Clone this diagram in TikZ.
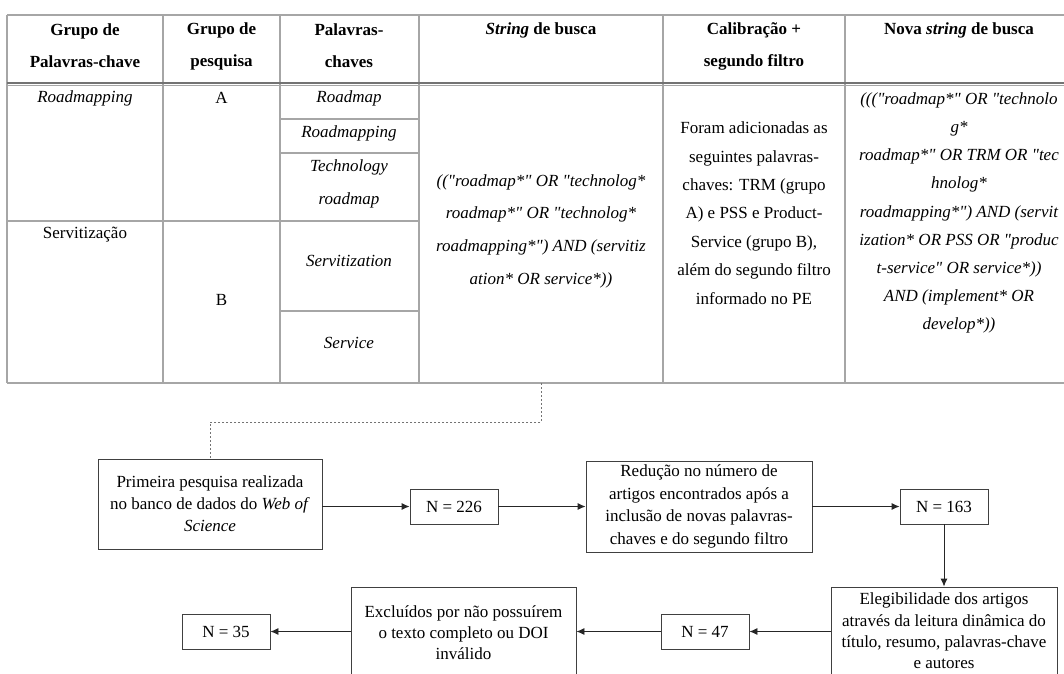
\documentclass[tikz,border=0pt]{standalone}
\usepackage{fontspec}
\setmainfont{Liberation Serif}[Ligatures=TeXOff]
\usetikzlibrary{arrows.meta}

\begin{document}
\begin{tikzpicture}[x=1pt,y=-1pt,
  grid/.style={draw=black!35, line width=1.1pt},
  cell/.style={inner sep=0pt, align=center, font=\fontsize{17}{32}\selectfont},
  hd/.style={inner sep=0pt, align=center, font=\fontsize{17}{32}\selectfont\bfseries},
  box/.style={draw=black!75, line width=0.9pt, inner sep=0pt, align=center},
  nbox/.style={box, minimum width=88pt, minimum height=35pt, font=\fontsize{17}{22}\selectfont},
  flow/.style={draw=black!85, line width=0.9pt, -{Latex[length=8pt,width=7pt]}},
  link/.style={draw=black!55, line width=0.9pt, dash pattern=on 2pt off 2pt},
]
\useasboundingbox (0,0) rectangle (1064,673);
\clip (0,0) rectangle (1064,673);
\fill[white] (0,0) rectangle (1064,673);

% ---- table rules ----
\draw[grid] (7,15) -- (1064,15);
\draw[grid] (7,383) -- (1064,383);
\foreach \x in {7,163,280,419,663,845}
  \draw[grid] (\x,15) -- (\x,383);
\draw[draw=black!55, line width=2pt] (7,83) -- (1064,83);
\draw[draw=black!35, line width=0.8pt] (7,85.8) -- (1064,85.8);
\draw[grid] (280,119) -- (419,119);
\draw[grid] (280,153) -- (419,153);
\draw[grid] (7,221) -- (419,221);
\draw[grid] (280,311) -- (419,311);

% ---- header ----
\node[hd] (h1) at (85,46) {Grupo de\\Palavras-chave};
\node[hd] (h2) at (221.5,46) {Grupo de\\pesquisa};
\node[hd] (h3) at (349,46) {Palavras-\\chaves};
\node[hd] (h4) at (541,30) {\textit{String} de busca};
\node[hd] (h5) at (754,46) {Calibração +\\segundo filtro};
\node[hd] (h6) at (959,30) {Nova \textit{string} de busca};

% ---- body ----
\node[cell] (g1) at (85,98) {\textit{Roadmapping}};
\node[cell] (g2) at (85,235) {Servitização};
\node[cell] (pa) at (221.5,98) {A};
\node[cell] (pb) at (221.5,300) {B};
\node[cell] (k1) at (349,98) {\textit{Roadmap}};
\node[cell] (k2) at (349,133) {\textit{Roadmapping}};
\node[cell, font=\fontsize{17}{33}\selectfont\itshape] (k3) at (349,184) {Technology\\roadmap};
\node[cell] (k4) at (349,261) {\textit{Servitization}};
\node[cell] (k5) at (349,343) {\textit{Service}};
\node[cell, font=\fontsize{17}{32.7}\selectfont\itshape] (s1) at (541,231)
  {(("roadmap*" OR "technolog*\\roadmap*" OR "technolog*\\roadmapping*") AND (servitiz\\ation* OR service*))};
\node[cell, font=\fontsize{17}{28.4}\selectfont] (c1) at (754,213)
  {Foram adicionadas as\\seguintes palavras-\\chaves: TRM (grupo\\A) e PSS e Product-\\Service (grupo B),\\além do segundo filtro\\informado no PE};
\node[cell, font=\fontsize{17}{28.2}\selectfont\itshape] (s2) at (959,213)
  {((("roadmap*" OR "technolo\\g*\\roadmap*" OR TRM OR "tec\\hnolog*\\roadmapping*") AND (servit\\ization* OR PSS OR "produc\\t-service" OR service*))\\AND (implement* OR\\develop*))};
\coordinate (tb) at (541,383);

% ---- flow ----
\node[box, minimum width=224pt, minimum height=90pt, font=\fontsize{17}{22}\selectfont] (b1) at (210,504)
  {Primeira pesquisa realizada\\no banco de dados do \textit{Web of}\\\textit{Science}};
\node[nbox] (n226) at (454,506.5) {N = 226};
\node[box, minimum width=226pt, minimum height=91pt, font=\fontsize{17}{22.5}\selectfont] (b2) at (699,506.5)
  {Redução no número de\\artigos encontrados após a\\inclusão de novas palavras-\\chaves e do segundo filtro};
\node[nbox] (n163) at (944,506.5) {N = 163};
\node[box, minimum width=226pt, minimum height=88pt, font=\fontsize{17}{21.3}\selectfont] (b3) at (944,631)
  {Elegibilidade dos artigos\\através da leitura dinâmica do\\título, resumo, palavras-chave\\e autores};
\node[nbox] (n47) at (705,631.5) {N = 47};
\node[box, minimum width=225pt, minimum height=92pt, font=\fontsize{17}{21}\selectfont] (b4) at (463.5,633)
  {Excluídos por não possuírem\\o texto completo ou DOI\\inválido};
\node[nbox] (n35) at (226,631.5) {N = 35};

\draw[link] (tb) -- ++(0,39) -| (b1.north);
\draw[flow] (b1.east |- n226) -- (n226.west);
\draw[flow] (n226.east) -- (b2.west |- n226);
\draw[flow] (b2.east |- n163) -- (n163.west);
\draw[flow] (n163.south) -- (b3.north);
\draw[flow] (b3.west |- n47) -- (n47.east);
\draw[flow] (n47.west) -- (b4.east |- n47);
\draw[flow] (b4.west |- n35) -- (n35.east);
\end{tikzpicture}
\end{document}
